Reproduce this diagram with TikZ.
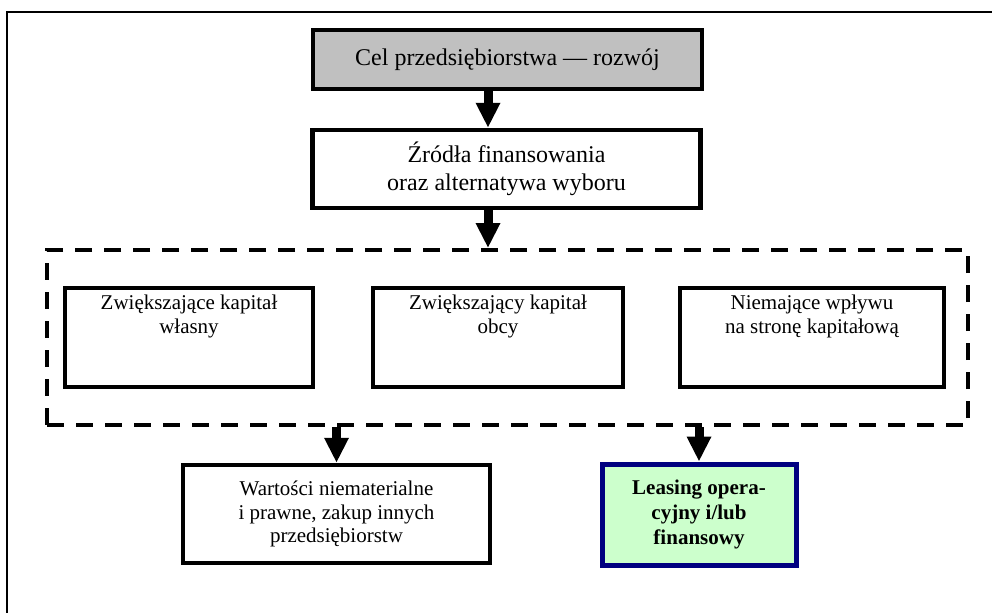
\documentclass[tikz,border=0pt]{standalone}
\usepackage{fontspec}
\setmainfont{Liberation Serif}
\usetikzlibrary{arrows.meta}
\definecolor{boxgray}{HTML}{C0C0C0}
\definecolor{lgreen}{HTML}{CCFFCC}
\definecolor{navyb}{HTML}{000080}
\newcommand{\topstrut}{\rule{0pt}{19pt}}
\tikzset{
  bigbox/.style={draw=black, line width=4.5pt, inner sep=0pt, align=center,
     font=\fontsize{24}{28}\selectfont},
  midbox/.style={draw=black, line width=4.5pt, inner sep=0pt, align=center,
     font=\fontsize{21}{23.5}\selectfont},
  innerbox/.style={draw=black, line width=4.5pt, inner xsep=0pt, inner ysep=2.25pt,
     font=\fontsize{21}{24}\selectfont},
  groupbox/.style={draw=black, line width=4pt, dash pattern=on 17pt off 12pt,
     inner sep=0pt},
  greenbox/.style={draw=navyb, fill=lgreen, line width=5pt, inner sep=0pt, align=center,
     font=\fontsize{21}{25}\selectfont\bfseries},
  arr/.style={line width=9pt, -{Triangle[width=23pt,length=25pt]}},
}
\begin{document}
\begin{tikzpicture}[x=1pt,y=-1pt]
\useasboundingbox (0,0) rectangle (992,613);
% outer frame (partly visible)
\draw[line width=2pt] (992,12) -- (7,12) -- (7,613);

\node[bigbox, fill=boxgray, minimum width=389pt, minimum height=59pt] (goal) at (507.5,59.5)
  {Cel przedsiębiorstwa — rozwój};
\node[bigbox, minimum width=388pt, minimum height=78pt] (src) at (506.5,169)
  {Źródła finansowania\\oraz alternatywa wyboru};

\node[groupbox, minimum width=921pt, minimum height=175pt] (grp) at (507.5,337.5) {};

\node[innerbox] (own) at (189,337.5)
  {\parbox[c][94.5pt][t]{248pt}{\centering\topstrut Zwiększające kapitał\\własny}};
\node[innerbox] (debt) at (498,337.5)
  {\parbox[c][94.5pt][t]{250pt}{\centering\topstrut Zwiększający kapitał\\obcy}};
\node[innerbox] (none) at (812,337.5)
  {\parbox[c][94.5pt][t]{264pt}{\centering\topstrut Niemające wpływu\\na stronę kapitałową}};

\node[midbox, minimum width=307pt, minimum height=98pt] (intang) at (336.5,514)
  {Wartości niematerialne\\i prawne, zakup innych\\przedsiębiorstw};
\node[greenbox, minimum width=194pt, minimum height=101pt] (lease) at (699,514.5)
  {Leasing opera-\\cyjny i/lub\\finansowy};

\draw[arr] ([xshift=-19.5pt]goal.south) -- ([xshift=-18.5pt]src.north);
\draw[arr] ([xshift=-18.5pt]src.south) -- (grp.north -| {488,0});
\draw[arr] (grp.south -| intang.north) -- (intang.north);
\draw[arr] (grp.south -| lease.north) -- (lease.north);
\end{tikzpicture}
\end{document}
